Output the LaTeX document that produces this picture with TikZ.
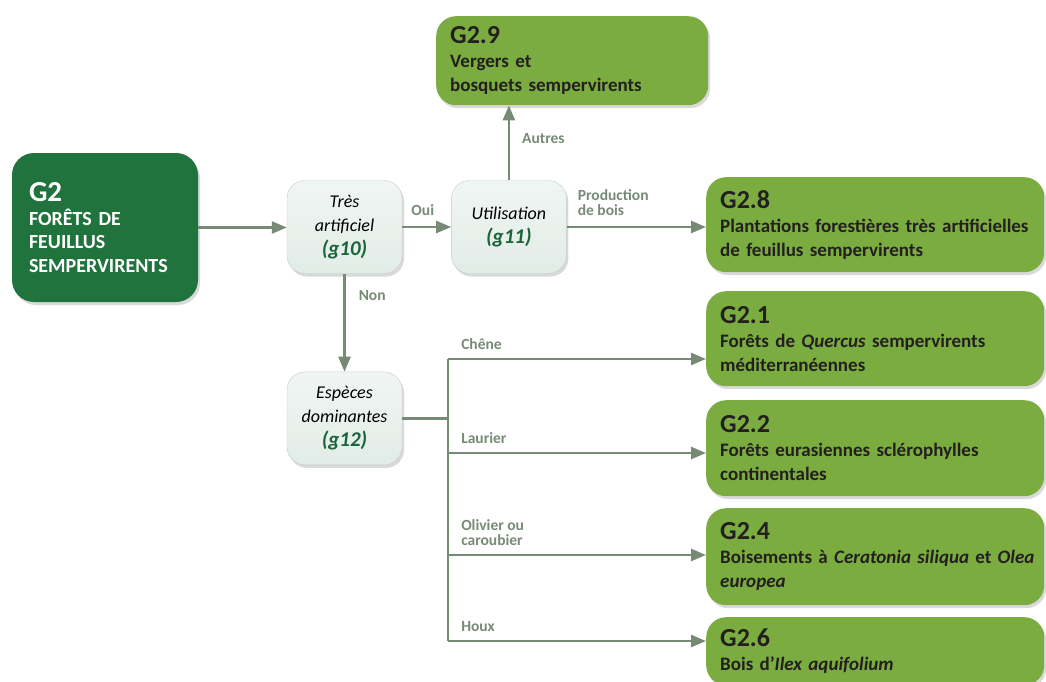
\documentclass[tikz,border=0pt]{standalone}
\usepackage{fontspec}
\setmainfont{Carlito}
\usetikzlibrary{arrows.meta, positioning, shadows}
\definecolor{vertfonce}{RGB}{33,115,62}
\definecolor{vertclair}{RGB}{122,172,64}
\definecolor{gristxt}{RGB}{118,138,118}
\definecolor{grisfond}{RGB}{226,236,231}
\definecolor{grisbord}{RGB}{196,206,200}
\definecolor{encre}{RGB}{35,31,32}
\definecolor{codevert}{RGB}{28,100,58}
\newcommand{\codeg}[1]{{\fontsize{21}{24}\selectfont\bfseries\itshape\color{codevert}(#1)}}
\newcommand{\titreg}[1]{{\fontsize{26}{28}\selectfont #1}}

\begin{document}
\begin{tikzpicture}[x=1pt, y=-1pt,
        ombre/.style={drop shadow={opacity=0.3, shadow xshift=2pt, shadow yshift=-3pt}},
        racine/.style={rectangle, rounded corners=22pt, fill=vertfonce, text=white, ombre, minimum width=186pt, minimum height=149pt, text width=152pt, inner xsep=17pt, align=left, font=\fontsize{20}{23.5}\selectfont\bfseries},
        choix/.style={rectangle, rounded corners=18pt, draw=grisbord, top color=grisfond!50!white, bottom color=grisfond, ombre, minimum width=115pt, minimum height=93pt, inner sep=2pt, align=center, font=\fontsize{18}{24}\selectfont\itshape},
        habitat/.style={rectangle, rounded corners=20pt, fill=vertclair, text=encre, ombre, anchor=north west, minimum width=338pt, minimum height=95pt, text width=310pt, inner xsep=14pt, align=left, font=\fontsize{19}{24}\selectfont\bfseries},
        lien/.style={draw=gristxt, line width=2.5pt},
        fleche/.style={lien, -{Triangle[length=15pt, width=12pt]}},
        etiq/.style={text=gristxt, font=\fontsize{15.5}{15}\selectfont\bfseries, inner sep=0pt, align=left}
    ]
        \useasboundingbox (0,0) rectangle (1046,682);
        \clip (0,0) rectangle (1046,682);

        % Boîtes de décision
        \node[racine] (g2) at (105,227.5) {{\fontsize{29}{30}\selectfont G2}\\[0pt]FORÊTS DE\\FEUILLUS\\SEMPERVIRENTS};
        \node[choix] (g10) at (344.5,227) {Très\\artificiel\\\codeg{g10}};
        \node[choix, right=49pt of g10] (g11) {Utilisation\\\codeg{g11}};
        \node[choix, below=98pt of g10] (g12) {Espèces\\dominantes\\\codeg{g12}};

        % Habitats
        \node[habitat, minimum width=272pt, text width=244pt, minimum height=89pt] (g29) at (436,16) {\titreg{G2.9}\\Vergers et\\bosquets sempervirents};
        \node[habitat] (g28) at (706,177) {\titreg{G2.8}\\Plantations forestières très artificielles\\de feuillus sempervirents};
        \node[habitat] (g21) at (706,291) {\titreg{G2.1}\\Forêts de \textit{Quercus} sempervirents\\méditerranéennes};
        \node[habitat, minimum height=96pt] (g22) at (706,400) {\titreg{G2.2}\\Forêts eurasiennes sclérophylles\\continentales};
        \node[habitat, minimum height=97pt] (g24) at (706,508) {\titreg{G2.4}\\\mbox{Boisements à \textit{Ceratonia siliqua} et \textit{Olea}}\\\textit{europea}};
        \node[habitat, minimum height=68pt] (g26) at (706,617) {\titreg{G2.6}\\Bois d’\textit{Ilex aquifolium}};

        % Points de branchement
        \coordinate (b1) at (448,359);
        \coordinate (b2) at (448,453);
        \coordinate (b3) at (448,555);
        \coordinate (b4) at (448,641);

        % Liens
        \draw[fleche] (g2.east) -- (g2.east -| g10.west);
        \draw[fleche] (g10) -- node[etiq, pos=0, anchor=south west, xshift=8pt, yshift=10pt] {Oui} (g11);
        \draw[fleche] (g11.east) -- node[etiq, pos=0, anchor=south west, xshift=10pt, yshift=10pt] {Production\\de bois} (g11.east -| g28.west);
        \draw[fleche] (g11.north) -- node[etiq, pos=0.56, anchor=west, xshift=12pt] {Autres} (g11.north |- g29.south);
        \draw[fleche] (g10) -- node[etiq, pos=0.22, anchor=west, xshift=13pt] {Non} (g12);
        \draw[lien] (g12.east) -- (g12.east -| b1);
        \draw[lien] (b1) -- (b4);
        \draw[fleche] (b1) -- node[etiq, pos=0, anchor=south west, xshift=12pt, yshift=8pt] {Chêne} (b1 -| g21.west);
        \draw[fleche] (b2) -- node[etiq, pos=0, anchor=south west, xshift=12pt, yshift=8pt] {Laurier} (b2 -| g22.west);
        \draw[fleche] (b3) -- node[etiq, pos=0, anchor=south west, xshift=12pt, yshift=8pt] {Olivier ou\\caroubier} (b3 -| g24.west);
        \draw[fleche] (b4) -- node[etiq, pos=0, anchor=south west, xshift=12pt, yshift=8pt] {Houx} (b4 -| g26.west);
    \end{tikzpicture}
\end{document}
